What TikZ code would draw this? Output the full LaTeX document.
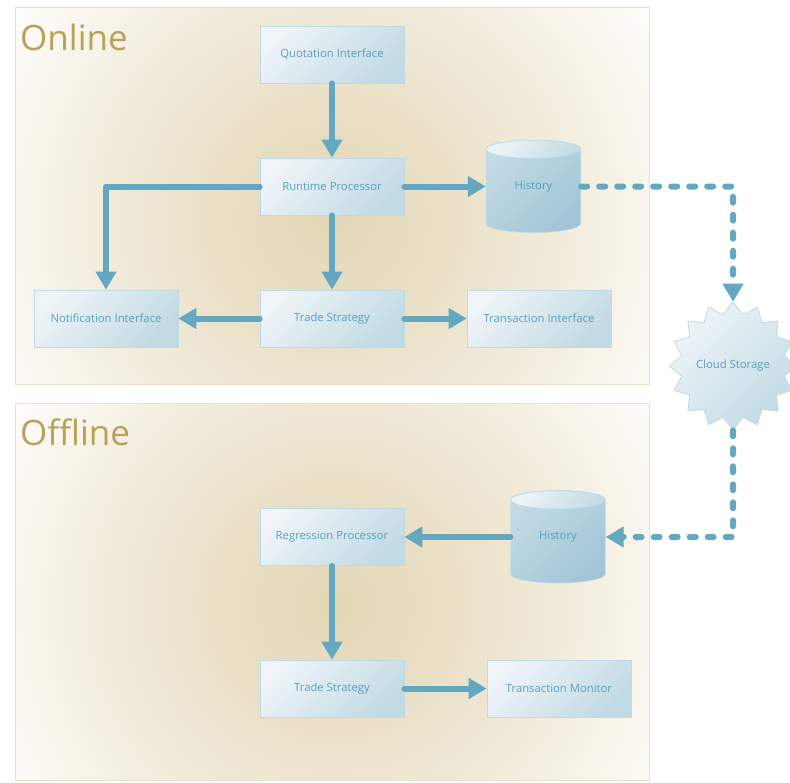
\documentclass[tikz,border=0pt]{standalone}
\usepackage{fontspec}
\setmainfont{Open Sans}
\usetikzlibrary{arrows.meta,shapes.geometric,calc}
\definecolor{frameIn}{HTML}{E4D8B8}
\definecolor{frameOut}{HTML}{FEFDFB}
\definecolor{frameLine}{HTML}{EADFC8}
\definecolor{titleCol}{HTML}{B9A158}
\definecolor{arrowCol}{HTML}{64A7C1}
\definecolor{txtCol}{HTML}{5B9FBD}
\definecolor{boxA}{HTML}{EEF4F8}
\definecolor{boxB}{HTML}{C2DAE4}
\definecolor{boxLine}{HTML}{BFDAE6}
\definecolor{cylA}{HTML}{C3DAE5}
\definecolor{cylB}{HTML}{A2C6D7}
\definecolor{cylTopA}{HTML}{EDF4F8}
\definecolor{cylTopB}{HTML}{C4DCE6}
\tikzset{
  frameborder/.style={draw=frameLine, line width=1pt},
  titletext/.style={anchor=base west, text=titleCol, font=\fontsize{35}{40}\selectfont, inner sep=0pt},
  procbox/.style={rectangle, minimum width=144pt, minimum height=57pt, inner sep=0pt,
    top color=boxA, bottom color=boxB, shading angle=45, draw=boxLine, line width=0.8pt,
    text=txtCol, font=\fontsize{11.3}{13}\selectfont},
  cloudstar/.style={star, star points=16, star point ratio=1.22, minimum size=112pt, inner sep=0pt,
    top color=boxA, bottom color=boxB, shading angle=45, draw=boxLine, line width=0.8pt,
    text=txtCol, font=\fontsize{11.3}{13}\selectfont},
  cylnode/.style={rectangle, minimum width=95pt, minimum height=93pt, inner sep=0pt,
    text=txtCol, font=\fontsize{11.3}{13}\selectfont,
    path picture={
      \shade[top color=cylA, bottom color=cylB, shading angle=45, draw=boxLine, line width=0.6pt]
        ($(path picture bounding box.north west)+(0.3pt,-9pt)$) --
        ($(path picture bounding box.south west)+(0.3pt,9.5pt)$)
        arc[start angle=180, end angle=360, x radius=47.2pt, y radius=9pt] --
        ($(path picture bounding box.north east)+(-0.3pt,-9pt)$)
        arc[start angle=0, end angle=180, x radius=47.2pt, y radius=9pt] -- cycle;
      \shade[top color=cylTopA, bottom color=cylTopB, shading angle=60, draw=boxLine, line width=0.6pt]
        ($(path picture bounding box.north)+(0pt,-9.3pt)$) ellipse[x radius=47.2pt, y radius=9pt];
    }},
  flow/.style={draw=arrowCol, line width=6pt, line cap=round, line join=round,
    -{Triangle[length=18pt, width=20pt]}},
  dashflow/.style={flow, dash pattern=on 6pt off 12pt}
}
% radial glow drawn as concentric discs
\newcommand\frameglow[3]{% #1 = corner a ; #2 = corner b ; #3 = centre
  \begin{scope}
    \clip #1 rectangle #2;
    \fill[frameOut] #1 rectangle #2;
    \foreach \r in {372,366,...,0} {
      \pgfmathsetmacro\pp{max(0,100*(1-(max(\r,0.5)/375)^1.3))}
      \fill[frameIn!\pp!frameOut] #3 circle[radius=\r pt+2pt];
    }
  \end{scope}
  \draw[frameborder] #1 rectangle #2;
}
\begin{document}
\begin{tikzpicture}[x=1pt, y=-1pt]
\useasboundingbox (0,0) rectangle (790,782);
\fill[white] (0,0) rectangle (790,782);

% frames
\frameglow{(15,7)}{(649,384)}{(332,220)}
\frameglow{(15,403)}{(649,780)}{(335,605)}
\node[titletext] (tOn) at (20,50) {Online};
\node[titletext] (tOff) at (20,445) {Offline};

% online nodes
\node[procbox] (qi) at (332,54.5) {Quotation Interface};
\node[procbox] (rp) at (332,186.5) {Runtime Processor};
\node[cylnode] (h1) at (533.5,186.5) {History};
\node[procbox] (ni) at (106,318.5) {Notification Interface};
\node[procbox] (ts) at (332,318.5) {Trade Strategy};
\node[procbox] (ti) at (539,318.5) {Transaction Interface};
\node[cloudstar] (cs) at (733,366) {Cloud Storage};

% offline nodes
\node[cylnode] (h2) at (558,537) {History};
\node[procbox] (rg) at (332,537) {Regression Processor};
\node[procbox] (ts2) at (332,688.5) {Trade Strategy};
\node[procbox] (tm) at (559,688.5) {Transaction Monitor};

% connectors
\coordinate (c1) at (106,186.5);
\coordinate (c2) at (733,186.5);
\coordinate (c3) at (733,537);
\draw[flow] (qi.south) -- (rp.north);
\draw[flow] (rp.west) -- (c1) -- (ni.north);
\draw[flow] (rp.east) -- (h1.west);
\draw[flow] (rp.south) -- (ts.north);
\draw[flow] (ts.west) -- (ni.east);
\draw[flow] (ts.east) -- (ti.west);
\draw[dashflow] (h1.east) -- (c2) -- (cs.north);
\draw[dashflow] (cs.south) -- (c3) -- (h2.east);
\draw[flow] (h2.west) -- (rg.east);
\draw[flow] (rg.south) -- (ts2.north);
\draw[flow] (ts2.east) -- (tm.west);
\end{tikzpicture}
\end{document}
